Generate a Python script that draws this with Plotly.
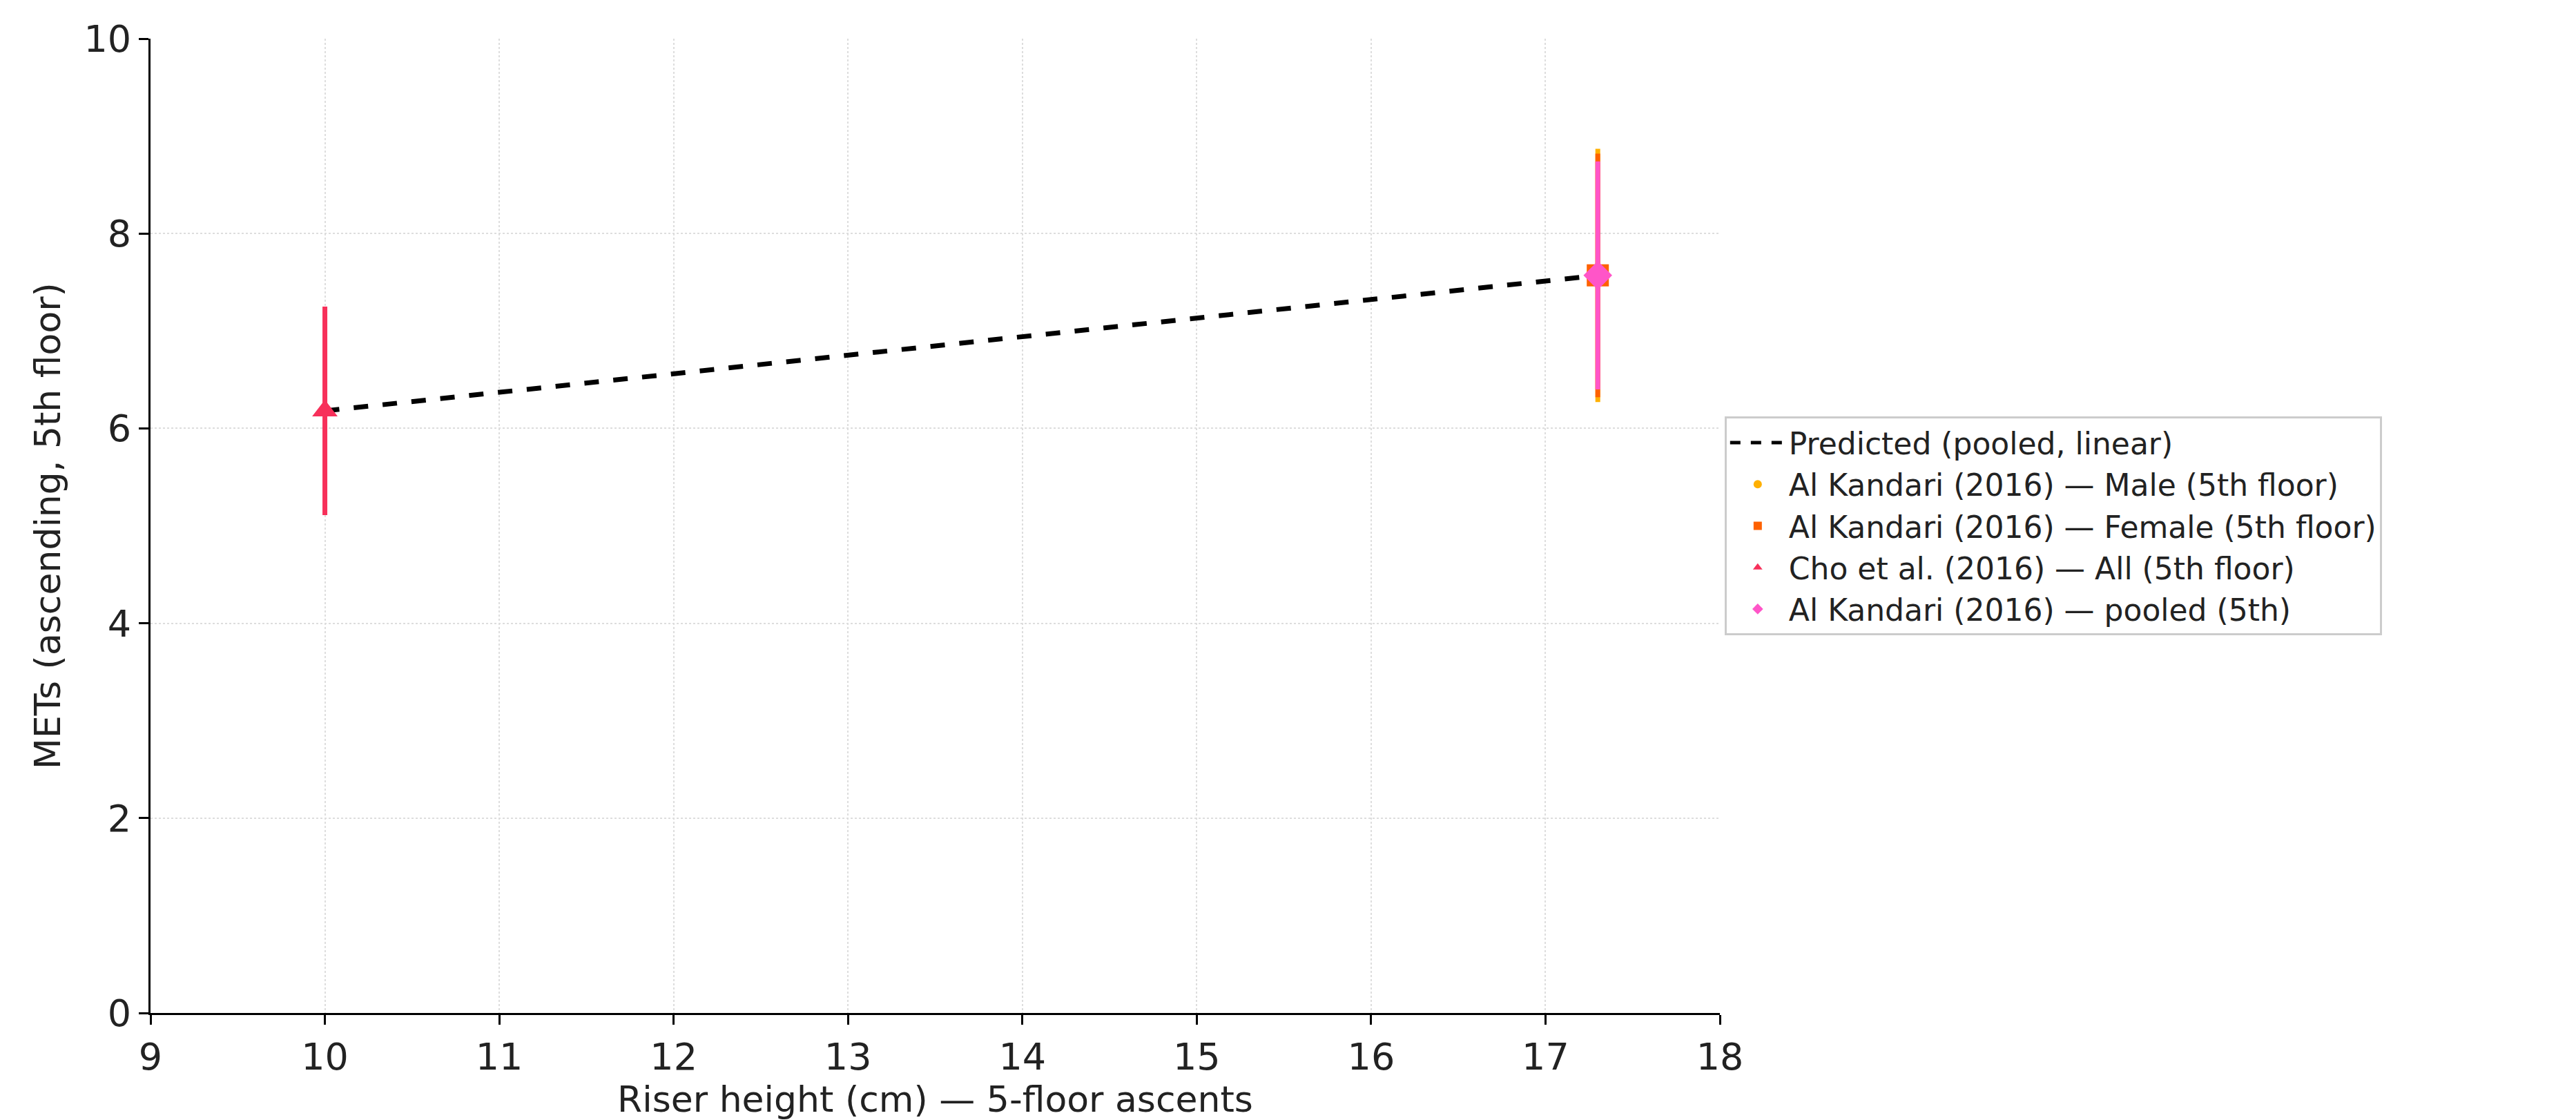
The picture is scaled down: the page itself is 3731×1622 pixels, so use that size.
import plotly.graph_objects as go

# data
pred_x = [10.0, 17.3]
pred_y = [6.18, 7.57]

series_names = ['Al Kandari (2016) — Male (5th floor)',
                'Al Kandari (2016) — Female (5th floor)',
                'Cho et al. (2016) — All (5th floor)',
                'Al Kandari (2016) — pooled (5th)']
series_x = [17.3, 17.3, 10.0, 17.3]
series_y = [7.57, 7.57, 6.18, 7.57]
series_err = [1.30, 1.25, 1.07, 1.17]
series_colors = ['#FFB000', '#FE6100', '#F7305A', '#FF55C8']
series_symbols = ['circle', 'square', 'triangle-up', 'diamond']

x_ticks = list(range(9, 19))
y_ticks = [0, 2, 4, 6, 8, 10]

fig = go.Figure()
fig.add_trace(go.Scatter(x=pred_x, y=pred_y, mode='lines', name='Predicted (pooled, linear)',
                         line=dict(color='black', width=7, dash='dash')))

for name, x, y, e, c, s in zip(series_names, series_x, series_y, series_err, series_colors, series_symbols):
    fig.add_trace(go.Scatter(x=[x], y=[y], mode='markers', name=name,
                             marker=dict(color=c, symbol=s, size=32),
                             error_y=dict(type='constant', value=e, color=c, thickness=7, width=0)))

axis_common = dict(showline=True, linecolor='black', linewidth=3, ticks='outside',
                   ticklen=14, tickwidth=3, tickcolor='black', mirror=False,
                   showgrid=True, gridcolor='#dddddd', griddash='dot', gridwidth=2,
                   zeroline=False, tickfont=dict(size=54, color='#222'))

fig.update_layout(
    width=3731, height=1622,
    paper_bgcolor='white', plot_bgcolor='white',
    font=dict(family='DejaVu Sans', color='#222'),
    margin=dict(l=210, r=1248, t=48, b=163),
    xaxis=dict(range=[9, 18], tickvals=x_ticks,
               title=dict(text='Riser height (cm) — 5-floor ascents', font=dict(size=52), standoff=10),
               **axis_common),
    yaxis=dict(range=[0, 10], tickvals=y_ticks,
               title=dict(text='METs (ascending, 5th floor)', font=dict(size=52), standoff=18),
               **axis_common),
    legend=dict(x=1.003, y=0.5, xanchor='left', yanchor='middle',
                bordercolor='#cccccc', borderwidth=3, bgcolor='white',
                font=dict(size=44), itemwidth=80, itemsizing='constant', tracegroupgap=6),
)

fig.write_html("out.html")
